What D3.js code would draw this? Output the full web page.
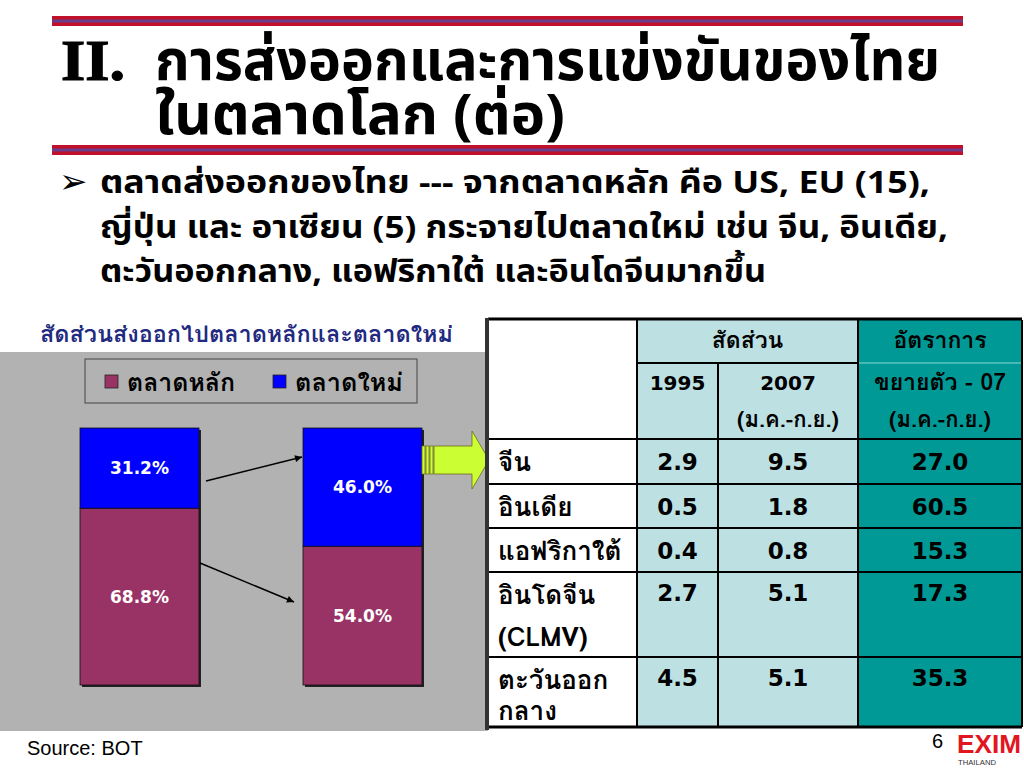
<!DOCTYPE html>
<html><head><meta charset="utf-8">
<script src="https://cdn.jsdelivr.net/npm/d3@7"></script>
<style>
html,body{margin:0;padding:0;background:#fff;}
svg{display:block;}
</style></head>
<body>
<svg id="c" width="1024" height="768"></svg>
<script>
// ---------- data ----------
const barYears = ["1995", "2007"];
const mainMarket = [68.8, 54.0];   // ตลาดหลัก
const newMarket = [31.2, 46.0];    // ตลาดใหม่
const seriesNames = ["ตลาดหลัก", "ตลาดใหม่"];
const chartTitle = "สัดส่วนส่งออกไปตลาดหลักและตลาดใหม่";

const rowNames = [["จีน"], ["อินเดีย"], ["แอฟริกาใต้"], ["อินโดจีน", "(CLMV)"], ["ตะวันออก", "กลาง"]];
const share1995 = [2.9, 0.5, 0.4, 2.7, 4.5];
const share2007 = [9.5, 1.8, 0.8, 5.1, 5.1];
const growth07 = [27.0, 60.5, 15.3, 17.3, 35.3];
const headerShare = "สัดส่วน";
const headerGrowth = ["อัตราการ", "ขยายตัว - 07", "(ม.ค.-ก.ย.)"];
const headerPeriod = "(ม.ค.-ก.ย.)";

const titleLine1 = "การส่งออกและการแข่งขันของไทย";
const titleLine2 = "ในตลาดโลก (ต่อ)";
const bulletLines = [
  "ตลาดส่งออกของไทย --- จากตลาดหลัก คือ US, EU (15),",
  "ญี่ปุ่น และ อาเซียน (5) กระจายไปตลาดใหม่ เช่น จีน, อินเดีย,",
  "ตะวันออกกลาง, แอฟริกาใต้ และอินโดจีนมากขึ้น"
];

// ---------- fonts ----------
const thaiFont = 'Tahoma,Loma,"DejaVu Sans","Noto Sans Thai",sans-serif';
const numFont = '"DejaVu Sans",Verdana,sans-serif';
const condensed = '"Liberation Sans Narrow",Garuda,"Noto Sans Thai",Tahoma,"DejaVu Sans",sans-serif';

// ---------- drawing ----------
const svg = d3.select("#c");
svg.append("rect").attr("width", 1024).attr("height", 768).attr("fill", "#fff");

// title bars
[16, 145].forEach(y => {
  svg.append("rect").attr("x", 52).attr("y", y).attr("width", 911).attr("height", 10).attr("fill", "#c0102a");
  svg.append("rect").attr("x", 52).attr("y", y + 3.5).attr("width", 911).attr("height", 3).attr("fill", "#6a3c8c");
});

svg.append("text").attr("x", 61).attr("y", 80).text("II.")
  .attr("textLength", 64).attr("lengthAdjust", "spacingAndGlyphs")
  .style("font-family", '"Liberation Serif","DejaVu Serif",serif').style("font-weight", "bold").style("font-size", "56px")
  .attr("stroke", "#000").attr("stroke-width", 1.2);
svg.append("text").attr("x", 155).attr("y", 80).text(titleLine1)
  .attr("textLength", 785).attr("lengthAdjust", "spacingAndGlyphs")
  .style("font-family", condensed).style("font-weight", "bold").style("font-size", "56px");
svg.append("text").attr("x", 155).attr("y", 134).text(titleLine2)
  .attr("textLength", 410).attr("lengthAdjust", "spacingAndGlyphs")
  .style("font-family", condensed).style("font-weight", "bold").style("font-size", "56px");

// bullet
svg.append("text").attr("x", 59).attr("y", 193).text("➢")
  .style("font-family", '"DejaVu Sans",sans-serif').style("font-size", "34px");
const bulletW = [830, 848, 666];
const bulletY = [193, 238, 282];
bulletLines.forEach((t, i) => {
  svg.append("text").attr("x", 100).attr("y", bulletY[i]).text(t)
    .attr("textLength", bulletW[i]).attr("lengthAdjust", "spacingAndGlyphs")
    .style("font-family", condensed).style("font-weight", "bold").style("font-size", "31px");
});

// ---------- chart ----------
const colMain = "#993366", colNew = "#0000ff", bgGray = "#b2b2b2";
svg.append("rect").attr("x", 0).attr("y", 352).attr("width", 488).attr("height", 379).attr("fill", bgGray);
svg.append("text").attr("x", 40).attr("y", 342).text(chartTitle)
  .attr("textLength", 413).attr("lengthAdjust", "spacingAndGlyphs")
  .attr("fill", "#1f2a80").style("font-family", thaiFont).style("font-weight", "bold").style("font-size", "22px");

// legend
const lg = svg.append("g");
lg.append("rect").attr("x", 85).attr("y", 359).attr("width", 332).attr("height", 44)
  .attr("fill", bgGray).attr("stroke", "#444").attr("stroke-width", 1);
const legX = [105, 273];
seriesNames.forEach((n, i) => {
  lg.append("rect").attr("x", legX[i]).attr("y", 375).attr("width", 13).attr("height", 13)
    .attr("fill", i === 0 ? colMain : colNew).attr("stroke", "#222").attr("stroke-width", 0.8);
  lg.append("text").attr("x", legX[i] + 22).attr("y", 391).text(n)
    .attr("textLength", 108).attr("lengthAdjust", "spacingAndGlyphs")
    .style("font-family", thaiFont).style("font-weight", "bold").style("font-size", "25px");
});

const bw = 119;
const x = d3.scalePoint().domain(barYears).range([80, 303]);
const y = d3.scaleLinear().domain([0, 100]).range([685, 428]);

const stack = barYears.map((yr, i) => ({ yr, main: mainMarket[i], nw: newMarket[i] }));
const bars = svg.append("g");
stack.forEach(d => {
  const x0 = x(d.yr);
  bars.append("rect").attr("x", x0 + 2).attr("y", y(100) + 2).attr("width", bw).attr("height", y(0) - y(100))
    .attr("fill", "#222");
  bars.append("rect").attr("x", x0).attr("y", y(d.main)).attr("width", bw).attr("height", y(0) - y(d.main))
    .attr("fill", colMain).attr("stroke", "#111").attr("stroke-width", 0.8);
  bars.append("rect").attr("x", x0).attr("y", y(100)).attr("width", bw).attr("height", y(d.main) - y(100))
    .attr("fill", colNew).attr("stroke", "#111").attr("stroke-width", 0.8);
});
const labels = svg.append("g");
stack.forEach(d => {
  const cx = x(d.yr) + bw / 2;
  [[d.nw, y(d.main + d.nw / 2)], [d.main, y(d.main / 2)]].forEach(([v, cy]) => {
    labels.append("text").attr("x", cx).attr("y", cy + 6).attr("text-anchor", "middle").attr("fill", "#fff")
      .text(v.toFixed(1) + "%")
      .style("font-family", numFont).style("font-weight", "bold").style("font-size", "17px");
  });
});

// arrows
const defs = svg.append("defs");
defs.append("marker").attr("id", "ah").attr("viewBox", "0 0 10 10").attr("refX", 10).attr("refY", 5)
  .attr("markerWidth", 10).attr("markerHeight", 7).attr("markerUnits", "userSpaceOnUse").attr("orient", "auto")
  .append("path").attr("d", "M0,0 L10,5 L0,10 z").attr("fill", "#000");
svg.append("line").attr("x1", 206).attr("y1", 481).attr("x2", 302).attr("y2", 457)
  .attr("stroke", "#000").attr("stroke-width", 1.5).attr("marker-end", "url(#ah)");
svg.append("line").attr("x1", 200).attr("y1", 563).attr("x2", 294).attr("y2", 602)
  .attr("stroke", "#000").attr("stroke-width", 1.5).attr("marker-end", "url(#ah)");

// green block arrow
const ga = svg.append("g");
const green = "#ccff33";
[422, 426, 430].forEach(gx => {
  ga.append("rect").attr("x", gx).attr("y", 446).attr("width", 3).attr("height", 28).attr("fill", green)
    .attr("stroke", "#6b6b1a").attr("stroke-width", 0.8);
});
ga.append("path").attr("d", "M434,446 L472,446 L472,431 L489,460 L472,489 L472,474 L434,474 Z")
  .attr("fill", green).attr("stroke", "#6b6b1a").attr("stroke-width", 0.8);

// ---------- table ----------
const colEdges = [488, 637, 718, 858, 1022];
const hdrTop = 320, hdrMid = 363, bodyTop = 439;
const rowH = [45, 44, 44, 85, 70];
const lineGap = [42, 42, 42, 42, 31];
const lightBlue = "#bde0e3", teal = "#009996";
const tb = svg.append("g");
tb.append("rect").attr("x", colEdges[0]).attr("y", hdrTop).attr("width", colEdges[1] - colEdges[0]).attr("height", bodyTop - hdrTop).attr("fill", "#fff");
tb.append("rect").attr("x", colEdges[1]).attr("y", hdrTop).attr("width", colEdges[3] - colEdges[1]).attr("height", bodyTop - hdrTop).attr("fill", lightBlue);
tb.append("rect").attr("x", colEdges[3]).attr("y", hdrTop).attr("width", colEdges[4] - colEdges[3]).attr("height", bodyTop - hdrTop).attr("fill", teal);

let yy = bodyTop;
const rowTops = rowH.map(h => { const t = yy; yy += h; return t; });
const tableBottom = yy;
rowNames.forEach((nm, i) => {
  ["#fff", lightBlue, lightBlue, teal].forEach((f, c) => {
    tb.append("rect").attr("x", colEdges[c]).attr("y", rowTops[i]).attr("width", colEdges[c + 1] - colEdges[c])
      .attr("height", rowH[i]).attr("fill", f);
  });
});
const line = (x1, y1, x2, y2, w, col) => tb.append("line").attr("x1", x1).attr("y1", y1).attr("x2", x2).attr("y2", y2)
  .attr("stroke", col || "#000").attr("stroke-width", w || 2);
line(colEdges[1], hdrMid, colEdges[3], hdrMid, 2);
line(colEdges[3], hdrMid, colEdges[4], hdrMid, 1.5, "#5cc4c0");
line(colEdges[1], hdrTop, colEdges[1], tableBottom, 2);
line(colEdges[2], hdrMid, colEdges[2], tableBottom, 2);
line(colEdges[3], hdrTop, colEdges[3], tableBottom, 2);
line(colEdges[4], hdrTop, colEdges[4], tableBottom, 2);
rowTops.forEach(t => line(colEdges[0], t, colEdges[4], t, 2));
line(colEdges[0], tableBottom, colEdges[4], tableBottom, 3);
line(colEdges[0], hdrTop - 1, colEdges[4], hdrTop - 1, 3);
line(colEdges[0] - 1, hdrTop - 2, colEdges[0] - 1, tableBottom + 3, 4, "#333");

// header text
const c12 = (colEdges[1] + colEdges[3]) / 2, c1 = (colEdges[1] + colEdges[2]) / 2,
      c2 = (colEdges[2] + colEdges[3]) / 2, c3 = (colEdges[3] + colEdges[4]) / 2;
const hdr = (cx, cy, t, fs, fam) => tb.append("text").attr("x", cx).attr("y", cy).attr("text-anchor", "middle").text(t)
  .style("font-family", fam).style("font-weight", "bold").style("font-size", fs + "px");
hdr(c12, 348, headerShare, 23, thaiFont);
hdr(c3, 348, headerGrowth[0], 23, thaiFont);
hdr(c1, 390, barYears[0], 20, numFont);
hdr(c2, 390, barYears[1], 20, numFont);
hdr(c2, 427, headerPeriod, 22, thaiFont);
hdr(c3, 390, headerGrowth[1], 23, thaiFont);
hdr(c3, 427, headerGrowth[2], 22, thaiFont);

// body text
const cols = [share1995, share2007, growth07];
rowNames.forEach((nm, i) => {
  nm.forEach((s, k) => {
    tb.append("text").attr("x", 498).attr("y", rowTops[i] + 32 + k * lineGap[i]).text(s)
      .style("font-family", thaiFont).style("font-weight", "bold").style("font-size", "26px");
  });
  cols.forEach((arr, c) => {
    tb.append("text").attr("x", (colEdges[c + 1] + colEdges[c + 2]) / 2).attr("y", rowTops[i] + 31 - (nm.length > 1 ? 2 : 0))
      .attr("text-anchor", "middle").text(arr[i].toFixed(1))
      .style("font-family", numFont).style("font-weight", "bold").style("font-size", "23px");
  });
});

// footer
svg.append("text").attr("x", 27).attr("y", 755).text("Source: BOT")
  .style("font-family", '"Liberation Sans",Arial,sans-serif').style("font-size", "20px");
svg.append("text").attr("x", 932).attr("y", 748).text("6")
  .style("font-family", '"Liberation Sans",Arial,sans-serif').style("font-size", "20px");
svg.append("text").attr("x", 957).attr("y", 753).text("EXIM").attr("textLength", 64).attr("lengthAdjust", "spacingAndGlyphs")
  .attr("fill", "#e2161f").style("font-family", '"Liberation Sans Narrow","Liberation Sans",sans-serif')
  .style("font-weight", "bold").style("font-size", "26px");
svg.append("text").attr("x", 958).attr("y", 765).text("THAILAND").attr("textLength", 38).attr("lengthAdjust", "spacingAndGlyphs")
  .attr("fill", "#333").style("font-family", '"Liberation Sans",sans-serif').style("font-size", "7px");
</script>
</body></html>
